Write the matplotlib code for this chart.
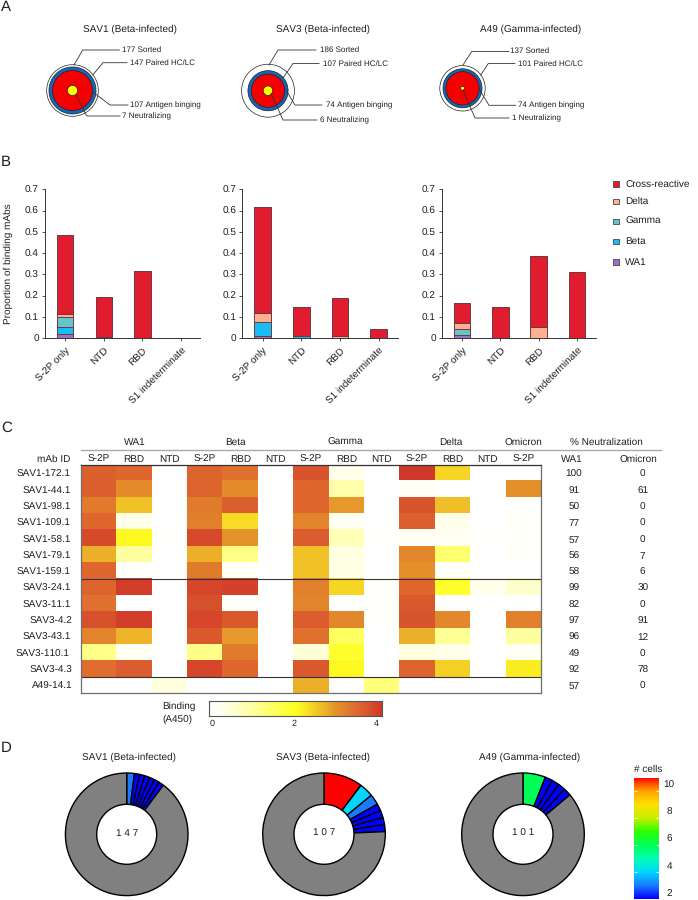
import numpy as np
import matplotlib
matplotlib.use("Agg")
import matplotlib.pyplot as plt
from matplotlib.colors import LinearSegmentedColormap, Normalize
from matplotlib.patches import Circle, Rectangle

plt.rcParams['font.family'] = ['Liberation Sans', 'DejaVu Sans']
plt.rcParams['text.hinting'] = 'no_hinting'
plt.rcParams['text.hinting_factor'] = 1
plt.rcParams['text.color'] = '#1f1f1f'
plt.rcParams['axes.labelcolor'] = '#1f1f1f'
plt.rcParams['xtick.labelcolor'] = '#1f1f1f'
plt.rcParams['ytick.labelcolor'] = '#1f1f1f'

# ---------- data ----------
donors = ['SAV1 (Beta-infected)', 'SAV3 (Beta-infected)', 'A49 (Gamma-infected)']
funnel_names = ['Sorted', 'Paired HC/LC', 'Antigen binging', 'Neutralizing']
sav1_counts = [177, 147, 107, 7]
sav3_counts = [186, 107, 74, 6]
a49_counts = [137, 101, 74, 1]

bar_categories = ['S-2P only', 'NTD', 'RBD', 'S1 indeterminate']
bar_series = ['WA1', 'Beta', 'Gamma', 'Delta', 'Cross-reactive']
sav1_wa1 = [0.022, 0, 0, 0]
sav1_beta = [0.030, 0.005, 0, 0]
sav1_gamma = [0.046, 0, 0, 0]
sav1_delta = [0.014, 0, 0, 0]
sav1_cross = [0.371, 0.188, 0.317, 0]
sav3_wa1 = [0.012, 0, 0, 0]
sav3_beta = [0.063, 0.012, 0, 0]
sav3_gamma = [0, 0, 0, 0]
sav3_delta = [0.042, 0, 0.012, 0]
sav3_cross = [0.500, 0.135, 0.175, 0.042]
a49_wa1 = [0.016, 0, 0, 0]
a49_beta = [0, 0, 0, 0]
a49_gamma = [0.026, 0, 0, 0]
a49_delta = [0.028, 0, 0.052, 0]
a49_cross = [0.095, 0.148, 0.333, 0.312]

mab_ids = ['SAV1-172.1', 'SAV1-44.1', 'SAV1-98.1', 'SAV1-109.1', 'SAV1-58.1', 'SAV1-79.1',
           'SAV1-159.1', 'SAV3-24.1', 'SAV3-11.1', 'SAV3-4.2', 'SAV3-43.1', 'SAV3-110.1',
           'SAV3-4.3', 'A49-14.1']
variant_names = ['WA1', 'Beta', 'Gamma', 'Delta', 'Omicron']
antigen_cols = ['S-2P', 'RBD', 'NTD', 'S-2P', 'RBD', 'NTD', 'S-2P', 'RBD', 'NTD',
                'S-2P', 'RBD', 'NTD', 'S-2P']
binding = [
    [3.50, 3.40, 0, 3.45, 3.30, 0, 3.65, 0.30, 0, 3.95, 2.35, 0, 0],
    [3.50, 3.00, 0, 3.45, 3.00, 0, 3.40, 0.90, 0, 0.20, 0, 0, 2.95],
    [3.20, 2.50, 0, 3.20, 3.50, 0, 3.40, 2.85, 0, 3.65, 2.55, 0, 0.02],
    [3.40, 0.30, 0, 3.15, 2.30, 0, 3.10, 0.20, 0, 3.50, 0.30, 0, 0.08],
    [3.75, 2.05, 0.03, 3.75, 2.90, 0.02, 3.55, 0.80, 0.03, 0.20, 0.20, 0.05, 0.08],
    [2.70, 1.00, 0, 2.70, 1.20, 0, 2.50, 0.40, 0, 3.05, 1.40, 0, 0.08],
    [3.40, 0.05, 0, 3.20, 0.20, 0, 2.50, 0.35, 0, 2.95, 0.10, 0, 0],
    [3.45, 3.90, 0, 3.80, 3.85, 0, 3.15, 2.35, 0.05, 3.40, 1.90, 0.30, 0.60],
    [3.30, 0, 0, 3.70, 0.05, 0, 3.10, 0, 0.05, 3.60, 0, 0, 0],
    [3.70, 3.90, 0, 3.80, 3.60, 0.03, 3.55, 3.05, 0.05, 3.65, 3.05, 0, 3.15],
    [3.10, 2.65, 0, 3.60, 2.85, 0, 3.30, 1.50, 0, 2.70, 1.10, 0, 1.00],
    [1.20, 0.20, 0, 1.20, 3.20, 0, 0.50, 1.90, 0, 0.45, 0.30, 0, 0.20],
    [3.35, 3.55, 0, 3.80, 3.40, 0, 3.60, 2.05, 0, 3.45, 2.40, 0, 2.15],
    [0, 0, 0.45, 0, 0, 0, 2.70, 0, 1.30, 0, 0, 0, 0],
]
neut_wa1 = [100, 91, 50, 77, 57, 56, 58, 99, 82, 97, 96, 49, 92, 57]
neut_omicron = [0, 61, 0, 0, 0, 7, 6, 30, 0, 91, 12, 0, 78, 0]

sav1_clones = [3, 2, 2, 2, 2, 2, 2]
sav1_total = 147
sav3_clones = [11, 4, 3, 2, 2, 2, 2]
sav3_total = 107
a49_clones = [6, 2, 2, 2, 2]
a49_total = 101

# ---------- helpers ----------
W, H = 698, 900
fig = plt.figure(figsize=(W / 100, H / 100), dpi=100)
TXT = 7

def box(l, t, r, b, **kw):
    return fig.add_axes([l / W, 1 - b / H, (r - l) / W, (b - t) / H], **kw)

ov = box(0, 0, W, H, zorder=5)
ov.set_xlim(0, W)
ov.set_ylim(H, 0)
ov.axis('off')
ov.patch.set_alpha(0)

def label(x, y, s, ha='center', size=TXT, **kw):
    ov.text(x, y, s, ha=ha, va='center', fontsize=size, **kw)

for s, y in zip('ABCD', [7, 162, 428, 748]):
    label(1, y, s, ha='left', size=11)

# ---------- panel A ----------
k = 1.94
circle_colors = ['white', '#1467b8', '#f40000', '#ffff00']
a_centers = [(72.5, 90.5), (268, 90.7), (462.5, 88.3)]
a_title_x = [130, 323, 530.7]
a_counts = [sav1_counts, sav3_counts, a49_counts]
a_leaders = [
    [[(74, 65), (82.7, 50), (119.3, 50)], [(92.7, 75), (103, 62.7), (127, 62.7)],
     [(93, 92), (110, 105), (128, 105)], [(76, 95), (86.7, 116), (120, 116)]],
    [[(269, 65), (278, 50), (316, 50)], [(283, 78), (293, 63.5), (319, 63.5)],
     [(286, 90), (295, 105), (322, 105)], [(271, 93), (283, 120), (317, 120)]],
    [[(463, 65), (471.7, 51.5), (509, 51.5)], [(480.7, 75), (488.3, 63.5), (515, 63.5)],
     [(479.7, 90), (489, 105.3), (515.7, 105.3)], [(463, 90), (475, 118), (509, 118)]],
]
a_text_pos = [
    [(122, 50), (130, 63), (130, 105), (122, 116)],
    [(320, 50), (323, 63.5), (326, 105), (320.5, 120)],
    [(510.5, 50.5), (517.7, 63.5), (517.7, 105.5), (511.7, 118)],
]
for (cx, cy), tx, counts, leaders, tpos, name in zip(a_centers, a_title_x, a_counts, a_leaders, a_text_pos, donors):
    label(tx, 29, name)
    for n, c in zip(counts, circle_colors):
        ov.add_patch(Circle((cx, cy), k * np.sqrt(n), fc=c, ec='#222222', lw=0.5))
    for pts, (x, y), n, fn in zip(leaders, tpos, counts, funnel_names):
        px, py = zip(*pts)
        ov.plot(px, py, color='#333333', lw=0.6, solid_joinstyle='miter')
        label(x, y, f'{n} {fn}', ha='left', size=6.1)

# ---------- panel B ----------
bar_colors = ['#9b72c8', '#1bbcf5', '#66c4cc', '#ffb090', '#e01c2e']
bar_sets = [
    [sav1_wa1, sav1_beta, sav1_gamma, sav1_delta, sav1_cross],
    [sav3_wa1, sav3_beta, sav3_gamma, sav3_delta, sav3_cross],
    [a49_wa1, a49_beta, a49_gamma, a49_delta, a49_cross],
]
b_frames = [(44.7, 200), (242, 397.7), (441.7, 595.7)]
for i, ((l, r), series) in enumerate(zip(b_frames, bar_sets)):
    ax = box(l, 189.3, r, 338.3)
    ax.patch.set_alpha(0)
    x = np.arange(len(bar_categories))
    bottom = np.zeros(len(x))
    for vals, c in zip(series, bar_colors):
        vals = np.array(vals)
        keep = vals > 0
        ax.bar(x[keep], vals[keep], 0.43, bottom=bottom[keep], color=c,
               edgecolor='#6b3a40', linewidth=0.7)
        bottom += vals
    ax.set_xlim(-0.53, 3.49)
    ax.set_ylim(0, 0.7)
    ax.set_yticks([0, .1, .2, .3, .4, .5, .6, .7])
    ax.set_yticklabels(['0', '0.1', '0.2', '0.3', '0.4', '0.5', '0.6', '0.7'], fontsize=TXT)
    ax.set_xticks(x)
    ax.set_xticklabels(bar_categories, fontsize=TXT, rotation=45, ha='right',
                       rotation_mode='anchor')
    ax.tick_params(length=2.2, width=0.6, color='#333333', pad=2)
    ax.tick_params(axis='x', pad=3)
    for s in ['top', 'right']:
        ax.spines[s].set_visible(False)
    for s in ['left', 'bottom']:
        ax.spines[s].set_linewidth(0.7)
        ax.spines[s].set_color('#333333')
    if i == 0:
        ax.set_ylabel('Proportion of binding mAbs', fontsize=TXT)
        ax.yaxis.set_label_coords((13 - l) / (r - l), 0.5)

legend_y = [184, 201.7, 221.3, 241.7, 262]
for y, name, c in zip(legend_y, bar_series[::-1], bar_colors[::-1]):
    ov.add_patch(Rectangle((613.3, y - 2.7), 5.4, 5.4, fc=c, ec='#444444', lw=0.6))
    label(625, y, name, ha='left', size=7.5)

# ---------- panel C ----------
heat_cmap = LinearSegmentedColormap.from_list('binding', [
    (0.00, '#ffffff'), (0.05, '#fffff4'), (0.125, '#ffffd8'), (0.25, '#ffffa0'),
    (0.375, '#ffff60'), (0.50, '#ffff20'), (0.575, '#f8dc25'), (0.625, '#f2c428'),
    (0.675, '#ecaf2a'), (0.725, '#e5932a'), (0.775, '#e2852c'), (0.85, '#e0682e'),
    (0.90, '#da5a2e'), (0.975, '#d33e2b'), (1.00, '#cf3529')])
hl, ht, hr, hb = 81, 465, 541, 693
ax = box(hl, ht, hr, hb)
mat = np.array(binding)
ax.imshow(mat, cmap=heat_cmap, vmin=0, vmax=4, aspect='auto', interpolation='nearest')
ax.set_xticks([])
ax.set_yticks([])
for s in ax.spines.values():
    s.set_color('#6e6e6e')
    s.set_linewidth(0.9)
ax.spines['top'].set_color('#333333')
ax.hlines([6.5, 12.5], -0.5, 12.5, color='#333333', lw=0.8)

cw = (hr - hl) / len(antigen_cols)
rh = (hb - ht) / len(mab_ids)
ov.plot([81, 660.7], [450, 450], color='#aaaaaa', lw=1.0)
for j, name in enumerate(antigen_cols):
    label(hl + cw * (j + .5), 459, name)
for name, x in zip(variant_names, [134.7, 235, 345, 451, 523.3]):
    label(x, 442, name)
label(606.7, 442.5, '% Neutralization')
label(70.5, 459, 'mAb ID', ha='right')
label(572, 459, 'WA1')
label(638, 459, 'Omicron')
for i, name in enumerate(mab_ids):
    y = 474.7 + rh * i
    x = 72.7 if name in ('SAV3-4.2', 'SAV3-4.3', 'A49-14.1') else (69 if name == 'SAV3-110.1' else 70.5)
    label(x, y, name, ha='right')
    label(574, y, str(neut_wa1[i]))
    label(642.7, y, str(neut_omicron[i]))

cax = box(208.7, 701.3, 382, 715.7)
grad = np.linspace(0, 4, 256)[None, :]
cax.imshow(grad, cmap=heat_cmap, vmin=0, vmax=4, aspect='auto',
           extent=[-0.08, 4.13, 0, 1], interpolation='bilinear')
cax.set_yticks([])
cax.set_xticks([0, 2, 4])
cax.set_xticklabels(['0', '2', '4'], fontsize=6.5)
cax.tick_params(axis='x', length=0, pad=3)
for s in cax.spines.values():
    s.set_color('#555555')
    s.set_linewidth(0.8)
label(179, 706.7, 'Binding')
label(177.5, 719, '(A450)')

# ---------- panel D ----------
cell_cmap = LinearSegmentedColormap.from_list('cells', [
    (0 / 9, '#0000ff'), (1 / 9, '#1a7cff'), (2 / 9, '#00d8ff'), (3 / 9, '#00ffb0'),
    (4 / 9, '#00ff55'), (5 / 9, '#30ff00'), (6 / 9, '#c8f000'), (7 / 9, '#ffe000'),
    (8 / 9, '#ffa000'), (9 / 9, '#ff0000')])
cell_norm = Normalize(2, 11)
d_centers = [126.7, 324, 523]
d_title_x = [129.3, 322.7, 530]
d_clones = [sav1_clones, sav3_clones, a49_clones]
d_totals = [sav1_total, sav3_total, a49_total]
R = 61.3
cy = 834.3
for cx, tx, clones, total, name in zip(d_centers, d_title_x, d_clones, d_totals, donors):
    ax = box(cx - R - 2, cy - R - 2, cx + R + 2, cy + R + 2)
    sizes = list(clones) + [total - sum(clones)]
    colors = [cell_cmap(cell_norm(c)) for c in clones] + ['#808080']
    ax.pie(sizes, colors=colors, startangle=90, counterclock=False, radius=R,
           wedgeprops=dict(width=R - 30, edgecolor='black', linewidth=1.0))
    ax.set_xlim(-R - 2, R + 2)
    ax.set_ylim(-R - 2, R + 2)
    ax.set_aspect('equal')
    label(tx, 757.7, name)
    label(cx, cy - 0.5, ' '.join(str(total)))

cb = box(634, 777.7, 658.7, 899)
grad = np.linspace(2, 11, 256)[:, None]
cb.imshow(grad, cmap=cell_cmap, norm=cell_norm, aspect='auto', origin='lower',
          extent=[0, 1, 2, 11], interpolation='bilinear')
cb.set_xticks([])
cb.set_yticks([2, 4, 6, 8, 10])
cb.set_yticklabels([])
cb.tick_params(axis='y', direction='in', left=True, right=True, color='white', length=2.5, width=0.6)
for s in cb.spines.values():
    s.set_visible(False)
for v in [2, 4, 6, 8, 10]:
    cb.text(1.42, v + 0.42, str(v), ha='center', va='center', fontsize=TXT)
label(648, 769, '# cells')

fig.savefig('out.png', dpi=100)
